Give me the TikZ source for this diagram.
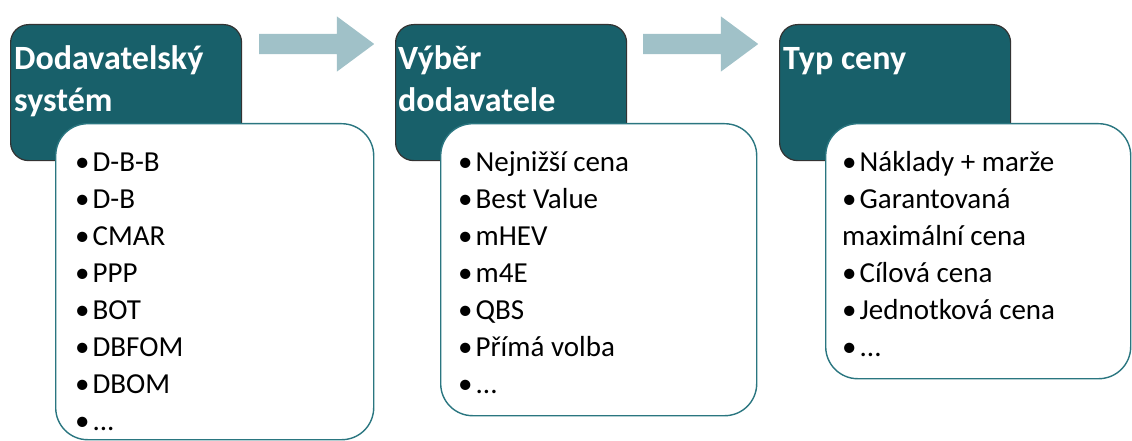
\documentclass[tikz,border=0pt]{standalone}
\usepackage{fontspec}
\setmainfont{Carlito}
\usepackage{tikz}
\usetikzlibrary{shapes.arrows,positioning}
\definecolor{headteal}{RGB}{24,96,106}
\definecolor{edgeteal}{RGB}{42,118,128}
\definecolor{arrowgray}{RGB}{160,193,200}
\newcommand{\itm}{•\hspace{3pt}}
\tikzset{
  headbox/.style ={draw=black!80, line width=1.2pt, fill=headteal,
                   rounded corners=18pt, anchor=north west,
                   minimum width=231pt, minimum height=136pt, inner sep=0pt},
  headtext/.style={anchor=north west, align=left, inner sep=0pt,
                   text=white, font=\fontsize{34}{42}\selectfont\bfseries},
  listbox/.style ={draw=edgeteal, line width=1.4pt, fill=white,
                   rounded corners=32pt, anchor=north west, inner sep=0pt},
  listtext/.style={anchor=north west, align=left, inner sep=0pt,
                   text=black, font=\fontsize{29}{37}\selectfont},
  steparrow/.style={single arrow, fill=arrowgray, draw=none,
                   inner xsep=0pt, inner ysep=10pt,
                   minimum width=55pt, minimum height=115pt,
                   single arrow head extend=17.5pt, single arrow tip angle=73,
                   shape border rotate=0, anchor=west},
}
\begin{document}
\begin{tikzpicture}[x=1pt, y=-1pt]
\useasboundingbox (0,0) rectangle (1132,441);

% stage 1
\node[headbox] (head1) at (10,24) {};
\node[headtext] (title1) at ([xshift=4pt, yshift=-16pt]head1.north west)
  {\strut Dodavatelský\\systém};
\node[listbox, minimum width=318pt, minimum height=316pt] (list1) at (55,123) {};
\node[listtext] (items1) at ([xshift=20pt, yshift=-22pt]list1.north west)
  {\strut\itm D-B-B\\\itm D-B\\\itm CMAR\\\itm PPP\\\itm BOT\\\itm DBFOM\\\itm DBOM\\\itm ...};

\node[steparrow] (step1) at (259,44) {};

% stage 2
\node[headbox] (head2) at (395,24) {};
\node[headtext] (title2) at ([xshift=3pt, yshift=-16pt]head2.north west)
  {\strut Výběr\\dodavatele};
\node[listbox, minimum width=316pt, minimum height=292pt] (list2) at (440,123) {};
\node[listtext] (items2) at ([xshift=18pt, yshift=-22pt]list2.north west)
  {\strut\itm Nejnižší cena\\\itm Best Value\\\itm mHEV\\\itm m4E\\\itm QBS\\\itm Přímá volba\\\itm ...};

\node[steparrow] (step2) at (643,44) {};

% stage 3
\node[headbox] (head3) at (779,24) {};
\node[headtext] (title3) at ([xshift=4pt, yshift=-16pt]head3.north west)
  {\strut Typ ceny};
\node[listbox, minimum width=305pt, minimum height=255pt] (list3) at (825,123) {};
\node[listtext] (items3) at ([xshift=17pt, yshift=-22pt]list3.north west)
  {\strut\itm Náklady + marže\\\itm Garantovaná\\maximální cena\\\itm Cílová cena\\\itm Jednotková cena\\\itm ...};

\end{tikzpicture}
\end{document}
